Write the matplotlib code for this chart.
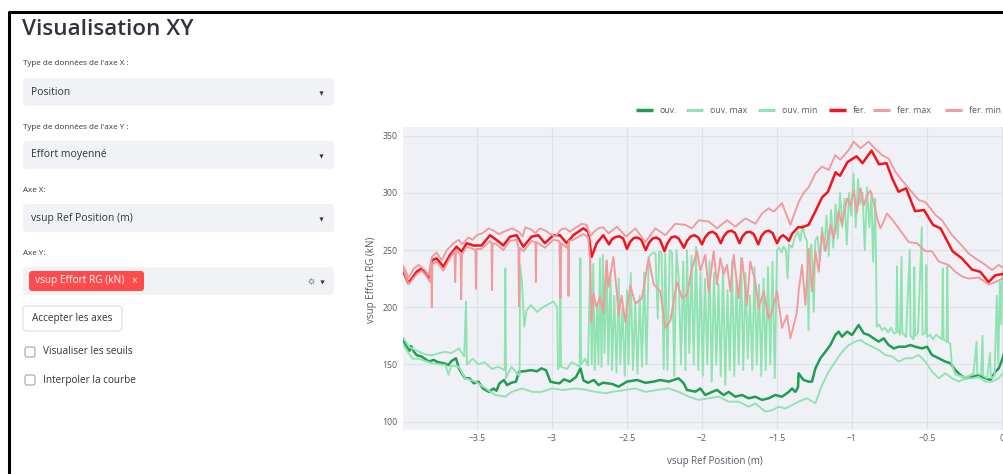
import matplotlib.pyplot as plt
from matplotlib.patches import FancyBboxPatch

plt.rcParams['font.family'] = ['Open Sans', 'DejaVu Sans']

W, H = 1004, 474

# ---- data ----
fer_x = [-3.99, -3.958, -3.902, -3.869, -3.836, -3.813, -3.802, -3.769, -3.724, -3.68,
         -3.636, -3.602, -3.569, -3.524, -3.469, -3.413, -3.369, -3.324, -3.28, -3.236,
         -3.191, -3.136, -3.091, -3.047, -2.991, -2.947, -2.902, -2.858, -2.791, -2.758,
         -2.736, -2.702, -2.658, -2.62, -2.60, -2.575, -2.55, -2.525, -2.50, -2.48,
         -2.455, -2.43, -2.405, -2.375, -2.355, -2.33, -2.305, -2.28, -2.25, -2.23,
         -2.205, -2.18, -2.155, -2.12, -2.10, -2.075, -2.05, -2.025, -2.00, -1.98,
         -1.955, -1.93, -1.905, -1.875, -1.855, -1.83, -1.805, -1.78, -1.75, -1.73,
         -1.705, -1.68, -1.655, -1.625, -1.605, -1.58, -1.555, -1.53, -1.50, -1.48,
         -1.46, -1.44, -1.42, -1.40, -1.36, -1.33, -1.29, -1.24, -1.20, -1.16,
         -1.11, -1.08, -1.03, -0.97, -0.93, -0.87, -0.82, -0.77, -0.73, -0.69,
         -0.64, -0.58, -0.52, -0.46, -0.41, -0.33, -0.27, -0.20, -0.145, -0.09,
         -0.045, 0.0, 0.013]
fer_y = [231, 221, 231, 234, 229.7, 225, 241, 242.8, 235.5, 245.7,
         253, 248.6, 256, 254, 254, 263, 258.8, 254, 261.7, 263,
         253, 261.7, 263, 256, 263, 263, 256, 263, 269, 266,
         244, 256, 263, 255, 259.5, 261.5, 262, 260, 251, 257,
         260.5, 261, 259, 250, 256, 260, 261, 259, 249, 256,
         261, 262, 260, 252, 258, 262, 263, 261, 255, 261,
         265, 266, 264, 256, 262, 266, 267, 265, 256, 262,
         265.5, 266, 264, 255, 262, 266, 267, 265, 256, 261,
         263, 261, 258, 264, 270, 270, 272, 285, 296, 301,
         318, 315, 327, 332, 326, 337, 325, 326, 312, 301,
         304, 284, 285, 272, 269, 249, 243, 233, 231, 222,
         228, 229, 229]

fer_max_x = [-3.99, -3.956, -3.92, -3.889, -3.85, -3.822, -3.80, -3.77, -3.735, -3.70,
             -3.656, -3.622, -3.60, -3.556, -3.53, -3.50, -3.46, -3.422, -3.39, -3.356,
             -3.32, -3.267, -3.222, -3.195, -3.178, -3.14, -3.111, -3.08, -3.044, -3.01,
             -2.978, -2.94, -2.911, -2.88, -2.85, -2.80, -2.77, -2.744, -2.72, -2.69,
             -2.66, -2.622, -2.567, -2.507, -2.444, -2.378, -2.311, -2.244, -2.178, -2.111,
             -2.067, -2.022, -1.956, -1.90, -1.833, -1.778, -1.711, -1.644, -1.60, -1.556,
             -1.522, -1.467, -1.411, -1.356, -1.322, -1.289, -1.244, -1.20, -1.156, -1.111,
             -1.078, -1.022, -0.989, -0.944, -0.889, -0.856, -0.80, -0.756, -0.711, -0.667,
             -0.622, -0.556, -0.511, -0.444, -0.40, -0.333, -0.289, -0.222, -0.178, -0.111,
             -0.067, -0.022, 0.013]
fer_max_y = [236, 226, 234, 237, 233, 228, 244, 248, 241, 250,
             256, 259, 255, 261, 259, 263, 265, 269, 267, 264,
             266, 269, 266, 262, 270, 268, 265, 269, 267, 264,
             262, 268, 269, 266, 269, 273, 272, 262, 266, 269,
             270, 264.6, 270.5, 261.7, 269, 257, 269, 263, 273, 272,
             269, 276, 275, 269, 276, 270.5, 277.7, 273, 282, 286.5,
             283.6, 291, 272, 292, 300, 305, 317, 323, 320, 333,
             329, 337.5, 344.8, 339, 344.8, 340, 333, 330, 318.5, 311,
             304, 293.8, 292, 280.7, 276, 263, 257, 247, 242.8, 237,
             232.6, 237, 234]

fer_min_x = [-3.99, -3.956, -3.90, -3.869, -3.836, -3.813, -3.805, -3.801, -3.797, -3.769,
             -3.724, -3.68, -3.65, -3.645, -3.64, -3.61, -3.605, -3.60, -3.569, -3.524,
             -3.51, -3.507, -3.503, -3.469, -3.413, -3.403, -3.40, -3.396, -3.369, -3.324,
             -3.28, -3.236, -3.224, -3.22, -3.216, -3.191, -3.136, -3.11, -3.107, -3.104,
             -3.047, -2.991, -2.95, -2.944, -2.938, -2.902, -2.893, -2.89, -2.886, -2.858,
             -2.791, -2.758, -2.745, -2.737, -2.724, -2.702, -2.68, -2.658, -2.636, -2.624,
             -2.591, -2.569, -2.556, -2.536, -2.511, -2.478, -2.444, -2.40, -2.356, -2.322,
             -2.278, -2.244, -2.211, -2.167, -2.133, -2.10, -2.067, -2.033, -2.011, -1.978,
             -1.956, -1.922, -1.90, -1.878, -1.856, -1.833, -1.811, -1.789, -1.756, -1.733,
             -1.70, -1.678, -1.644, -1.622, -1.589, -1.556, -1.533, -1.50, -1.467, -1.433,
             -1.411, -1.389, -1.367, -1.356, -1.333, -1.311, -1.289, -1.267, -1.244, -1.222,
             -1.20, -1.178, -1.144, -1.122, -1.089, -1.067, -1.033, -1.011, -0.989, -0.967,
             -0.944, -0.922, -0.90, -0.878, -0.856, -0.833, -0.811, -0.789, -0.767, -0.722,
             -0.689, -0.622, -0.567, -0.511, -0.467, -0.422, -0.356, -0.311, -0.267, -0.222,
             -0.156, -0.089, -0.044, 0.0, 0.013]
fer_min_y = [233, 220, 229, 232, 227, 222, 238, 200, 238, 240,
             232, 243, 249, 222, 250, 246, 207, 246, 253, 251,
             250, 216, 251, 251, 258, 256, 215, 256, 255, 250,
             258, 259, 252, 201, 252, 249, 258, 257, 222, 257,
             252, 259, 258, 208, 256, 252, 256, 210, 258, 259,
             264, 261, 240, 187, 212, 200, 209, 195, 241, 218,
             244, 215, 193, 210, 187, 219, 203, 208, 243, 220,
             214, 182, 188, 222, 208, 211, 234, 249, 232, 246,
             214, 249, 220, 243, 229, 237, 214, 246, 208, 243,
             202, 240, 222, 199, 214, 190, 196, 214, 182, 193,
             173, 184, 196, 214, 237, 202, 251, 214, 249, 231,
             266, 249, 272, 260, 284, 272, 295, 289, 302, 283,
             304, 289, 298, 302, 292, 278, 269, 275, 282, 275,
             269, 257, 256, 249, 249, 240, 237, 231, 227, 225,
             226, 220, 222, 225, 224]

ouv_x = [-3.99, -3.97, -3.95, -3.94, -3.92, -3.90, -3.87, -3.82, -3.79, -3.76,
         -3.72, -3.69, -3.67, -3.64, -3.62, -3.60, -3.58, -3.55, -3.52, -3.49,
         -3.46, -3.42, -3.39, -3.37, -3.35, -3.32, -3.30, -3.27, -3.24, -3.22,
         -3.19, -3.14, -3.10, -3.07, -3.04, -3.01, -2.98, -2.95, -2.92, -2.88,
         -2.84, -2.81, -2.79, -2.76, -2.72, -2.69, -2.66, -2.60, -2.556, -2.50,
         -2.433, -2.378, -2.322, -2.278, -2.222, -2.156, -2.122, -2.10, -2.044, -2.011,
         -1.978, -1.933, -1.90, -1.856, -1.822, -1.778, -1.733, -1.689, -1.644, -1.60,
         -1.556, -1.511, -1.467, -1.422, -1.40, -1.378, -1.36, -1.356, -1.333, -1.322,
         -1.289, -1.267, -1.244, -1.211, -1.178, -1.144, -1.111, -1.089, -1.067, -1.033,
         -1.0, -0.956, -0.922, -0.889, -0.856, -0.822, -0.789, -0.756, -0.722, -0.689,
         -0.644, -0.611, -0.578, -0.533, -0.50, -0.467, -0.422, -0.378, -0.344, -0.311,
         -0.278, -0.244, -0.20, -0.156, -0.111, -0.078, -0.044, -0.022, 0.004, 0.013]
ouv_y = [171, 166, 162, 166, 161, 158, 157, 152.5, 154, 152,
         151, 149.5, 153, 155.4, 146.6, 142, 138, 137.9, 133.5, 135,
         129, 126, 129, 127, 133.5, 136.4, 132, 134, 135, 143.7,
         144, 145, 144, 146.6, 145, 135, 134, 133.5, 137, 135,
         139, 146.6, 136, 134, 136.4, 132, 134, 133, 130.6, 135,
         136.4, 134, 135, 136.4, 135, 137.9, 133.5, 127.7, 126.2, 129,
         123.3, 126, 127.7, 123.3, 126, 121.8, 123.3, 120.4, 121.8, 119,
         120.4, 123.3, 121.8, 126, 129, 126, 130, 142.3, 138, 136.4,
         135, 135, 146.6, 155.4, 161, 167, 175.8, 178.7, 174.3, 178.7,
         175.8, 184.5, 177.2, 175.8, 172.8, 170, 172.8, 167, 164, 165.5,
         165.5, 167, 165.5, 164, 165.5, 158.3, 155.4, 152.5, 151, 145,
         140.8, 137.9, 139, 140.8, 138, 136.4, 143.7, 146.6, 155.4, 160]

ouv_min_x = [-3.99, -3.93, -3.89, -3.80, -3.71, -3.69, -3.67, -3.62, -3.58, -3.51,
             -3.44, -3.38, -3.31, -3.27, -3.20, -3.13, -3.07, -3.00, -2.93, -2.84,
             -2.78, -2.71, -2.64, -2.60, -2.511, -2.444, -2.378, -2.30, -2.222, -2.156,
             -2.089, -2.022, -1.956, -1.889, -1.822, -1.756, -1.689, -1.644, -1.578, -1.533,
             -1.489, -1.444, -1.40, -1.356, -1.30, -1.244, -1.20, -1.156, -1.111, -1.067,
             -1.022, -0.978, -0.944, -0.911, -0.867, -0.822, -0.778, -0.733, -0.689, -0.644,
             -0.60, -0.556, -0.511, -0.467, -0.422, -0.378, -0.333, -0.289, -0.244, -0.20,
             -0.156, -0.111, -0.067, -0.022, 0.013]
ouv_min_y = [167, 155, 155, 151, 149.5, 141, 149, 148, 138, 135,
             129, 123.3, 121.9, 126, 129, 126, 126, 129, 127.7, 129,
             128, 126, 124.8, 126, 127.7, 129, 126, 127.7, 129, 126,
             121.9, 119, 120.4, 121.9, 117.5, 117.5, 113, 116, 108.7, 110,
             113, 111.5, 114.5, 117.5, 120.4, 116, 132, 143.7, 152.5, 161,
             167, 170, 171.4, 168.5, 165.6, 162.7, 158.3, 157, 152.5, 155.4,
             155.4, 158.3, 152.5, 143.7, 137.9, 142.3, 137.9, 135, 137.9, 137.9,
             139, 135, 135, 137.9, 143.7]

ouv_max_x = [-3.99, -3.95, -3.90, -3.85, -3.80, -3.75, -3.71, -3.67, -3.62, -3.585,
             -3.573, -3.567, -3.53, -3.49, -3.45, -3.40, -3.36, -3.315, -3.311, -3.306,
             -3.27, -3.24, -3.216, -3.212, -3.20, -3.185, -3.17, -3.14, -3.10, -3.06,
             -3.02, -2.99, -2.965, -2.96, -2.947, -2.944, -2.94, -2.90, -2.87, -2.84,
             -2.815, -2.811, -2.806, -2.78, -2.76,
             -2.745, -2.735, -2.725, -2.715, -2.70, -2.69, -2.68, -2.67, -2.66, -2.65,
             -2.635, -2.625, -2.61, -2.60, -2.585, -2.57, -2.555, -2.545, -2.53, -2.515,
             -2.50, -2.49, -2.475, -2.46, -2.445, -2.43, -2.415, -2.40, -2.385, -2.37,
             -2.355, -2.34, -2.325, -2.31, -2.295, -2.285, -2.27, -2.255, -2.245, -2.23,
             -2.215, -2.20, -2.185, -2.17, -2.155, -2.14, -2.125, -2.11, -2.10, -2.085,
             -2.07, -2.055, -2.04, -2.025, -2.01, -1.995, -1.98, -1.965, -1.95, -1.935,
             -1.92, -1.905, -1.89, -1.875, -1.86, -1.845, -1.83, -1.815, -1.80, -1.785,
             -1.77, -1.755, -1.74, -1.725, -1.71, -1.695, -1.68, -1.665, -1.65, -1.635,
             -1.62, -1.605, -1.59, -1.575, -1.56, -1.545, -1.53, -1.515, -1.50, -1.485,
             -1.47, -1.455, -1.44, -1.43, -1.42,
             -1.40, -1.38, -1.36, -1.345, -1.33, -1.315, -1.30, -1.29, -1.28, -1.27,
             -1.255, -1.245, -1.23, -1.215, -1.20, -1.185, -1.17, -1.155, -1.14, -1.125,
             -1.11, -1.095, -1.08, -1.065, -1.05, -1.035, -1.02, -1.005, -0.99, -0.975,
             -0.96, -0.945, -0.93, -0.915, -0.90, -0.885, -0.87, -0.86, -0.845, -0.835,
             -0.82, -0.80, -0.78, -0.76, -0.74, -0.72, -0.705, -0.70, -0.695, -0.68,
             -0.67, -0.665, -0.64, -0.615, -0.61, -0.59, -0.585, -0.58, -0.56, -0.535,
             -0.53, -0.51, -0.505, -0.50, -0.48, -0.46, -0.44, -0.42, -0.40, -0.395,
             -0.39, -0.37, -0.365, -0.36, -0.345, -0.335, -0.31, -0.28, -0.25, -0.22,
             -0.19, -0.17, -0.165, -0.14, -0.13, -0.125, -0.10, -0.08, -0.075, -0.05,
             -0.035, -0.025, -0.015, -0.005, 0.0, 0.013]
ouv_max_y = [173, 165, 162, 159, 158, 160, 161, 160, 164, 157,
             205, 150, 155, 150, 152, 146, 148, 145, 234, 138,
             148, 143, 140, 237, 222, 183, 197, 202, 196, 200,
             203, 205, 200, 146, 150, 238, 148, 146, 152, 150,
             148, 243, 150, 155, 149,
             240, 150, 238, 145, 200, 150, 243, 148, 246, 160,
             240, 150, 230, 145, 210, 143, 225, 150, 200, 140,
             215, 150, 230, 145, 205, 142, 210, 148, 230, 150,
             244, 246, 248, 247, 190, 249, 248, 146, 247, 145,
             250, 248, 140, 250, 225, 150, 240, 145, 250, 160,
             245, 150, 253, 145, 230, 140, 225, 150, 240, 135,
             230, 150, 220, 140, 235, 132, 215, 145, 240, 140,
             225, 150, 243, 145, 230, 155, 210, 145, 235, 150,
             220, 140, 225, 145, 235, 150, 240, 138, 250, 252,
             248, 253, 250, 225, 255,
             252, 262, 266, 258, 272, 262, 258, 180, 250, 255,
             196, 258, 262, 240, 270, 250, 280, 245, 285, 252,
             290, 260, 300, 270, 295, 255, 300, 280, 317, 270,
             312, 290, 300, 250, 305, 270, 300, 240, 295, 183,
             185, 180, 182, 178, 182, 177, 178, 236, 180, 176,
             244, 178, 174, 250, 175, 172, 235, 175, 178, 270,
             176, 178, 237, 174, 176, 172, 176, 174, 172, 234,
             172, 170, 236, 170, 168, 150, 141, 140, 139, 140,
             142, 170, 142, 141, 175, 140, 138, 160, 138, 140,
             210, 150, 222, 185, 231, 230]

series = [
    ('ouv.', ouv_x, ouv_y, '#1f9e50', 1.8),
    ('ouv. max', ouv_max_x, ouv_max_y, '#8fe3b0', 1.35),
    ('ouv. min', ouv_min_x, ouv_min_y, '#8fe3b0', 1.35),
    ('fer.', fer_x, fer_y, '#f2141c', 1.8),
    ('fer. max', fer_max_x, fer_max_y, '#f19a9c', 1.35),
    ('fer. min', fer_min_x, fer_min_y, '#f19a9c', 1.35),
]

xticks = [-3.5, -3, -2.5, -2, -1.5, -1, -0.5, 0]
xtick_labels = ['\u22123.5', '\u22123', '\u22122.5', '\u22122', '\u22121.5', '\u22121', '\u22120.5', '0']
yticks = [100, 150, 200, 250, 300, 350]

fig = plt.figure(figsize=(W / 100, H / 100), dpi=100)
fig.patch.set_facecolor('white')

# ---- chart ----
ax = fig.add_axes([403 / W, (H - 430) / H, (W - 403) / W, (430 - 127) / H])
ax.set_facecolor('#eff1f6')
for i, (name, xs, ys, col, lw) in enumerate(series):
    ax.plot(xs, ys, color=col, lw=lw, zorder=3 + i, solid_joinstyle='round')
ax.set_xlim(-3.993, 0.013)
ax.set_ylim(92.7, 357.6)
ax.set_xticks(xticks)
ax.set_xticklabels(xtick_labels)
ax.set_yticks(yticks)
ax.grid(True, color='#dfe2e9', lw=0.9, zorder=1)
ax.set_axisbelow(True)
for s in ax.spines.values():
    s.set_visible(False)
ax.tick_params(length=0, labelsize=6.3, labelcolor='#555a66')
ax.tick_params(axis='x', pad=3)
ax.tick_params(axis='y', pad=4)
ax.set_xlabel('vsup Ref Position (m)', fontsize=7, color='#555a66')
ax.set_ylabel('vsup Effort RG (kN)', fontsize=7, color='#555a66')
ax.xaxis.set_label_coords(0.519, -0.086)
ax.yaxis.set_label_coords(-0.0433, 0.495)

# ---- streamlit-like side panel, drawn in pixel coordinates ----
ov = fig.add_axes([0, 0, 1, 1], zorder=10)
ov.set_xlim(0, W)
ov.set_ylim(H, 0)
ov.axis('off')
ov.patch.set_visible(False)

dark = '#31333f'

# screenshot frame
ov.plot([9.5, 9.5, W], [H, 11.5, 11.5], color='black', lw=2.2, solid_capstyle='butt')

ov.text(22, 29, 'Visualisation XY', fontsize=16.2, fontweight='semibold', color=dark, va='center')


def box(x0, y0, x1, y1, fc, ec='none', r=4, lw=0.8):
    ov.add_patch(FancyBboxPatch((x0, y0), x1 - x0, y1 - y0,
                                boxstyle='round,pad=0,rounding_size=%g' % r,
                                fc=fc, ec=ec, lw=lw))


labels = ["Type de données de l'axe X :", "Type de données de l'axe Y :", 'Axe X:', 'Axe Y:']
label_y = [63, 127, 190, 253]
boxes = [(78, 106, 'Position'), (141, 169, 'Effort moyenné'), (204, 232, 'vsup Ref Position (m)')]

for txt, yy in zip(labels, label_y):
    ov.text(23, yy, txt, fontsize=5.8, color=dark, va='center')

for y0, y1, txt in boxes:
    box(23, y0, 334, y1, '#f0f2f6')
    ov.text(31, (y0 + y1) / 2, txt, fontsize=7.5, color=dark, va='center')
    ov.plot(321, (y0 + y1) / 2 + 0.5, marker='v', ms=3, color=dark, mew=0)

# multiselect with red tag
box(23, 267, 334, 295, '#f0f2f6')
box(29, 271, 144, 291, '#ff4b4b', r=3)
ov.text(35, 281, 'vsup Effort RG (kN)', fontsize=7.3, color='white', va='center')
ov.text(134.5, 281, '\u00d7', fontsize=7, color='white', va='center', ha='center')
ov.plot(311, 281, marker=(8, 1, 0), ms=5.5, color='#8a8d96', mew=0)
ov.plot(311, 281, marker='o', ms=2, color='#f0f2f6', mew=0)
ov.plot(322, 281.5, marker='v', ms=3, color=dark, mew=0)

# button
box(23, 306, 122, 331, 'white', ec='#dcdde2', r=4)
ov.text(72.5, 318.5, 'Accepter les axes', fontsize=7.2, color=dark, va='center', ha='center')

# checkboxes
for yy, txt in [(352, 'Visualiser les seuils'), (380, 'Interpoler la courbe')]:
    box(25, yy - 5, 35, yy + 5, 'white', ec='#a3a5ad', r=2, lw=0.8)
    ov.text(43, yy, txt, fontsize=7.2, color=dark, va='center')

# legend (horizontal, above the chart)
leg_x = [636, 686, 758, 829, 873, 945]
for lx, (name, xs, ys, col, lw) in zip(leg_x, series):
    ov.plot([lx, lx + 17], [110, 110], color=col, lw=lw + 0.7, solid_capstyle='butt')
    ov.text(lx + 24, 110, name, fontsize=6.3, color='#555a66', va='center')

fig.savefig('out.png', dpi=100)
